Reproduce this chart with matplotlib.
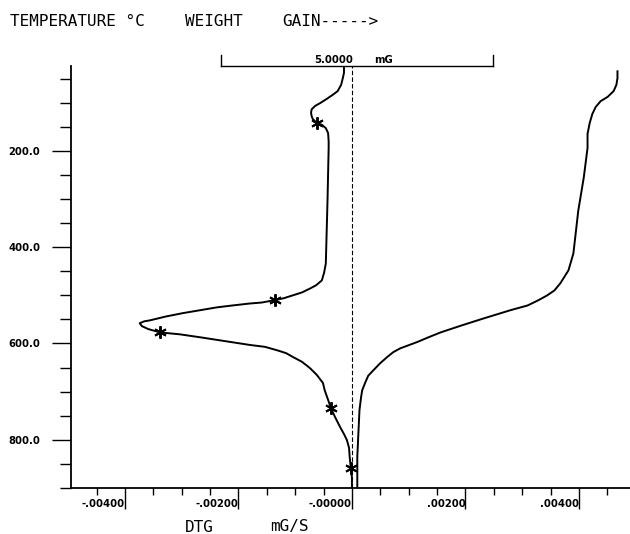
import matplotlib
matplotlib.use("Agg")
import matplotlib.pyplot as plt
from matplotlib.ticker import MultipleLocator
import matplotlib.transforms as mtransforms

# DTG curve (temperature in degC, rate in mG/s)
dtg_temp = [28, 38, 49, 63, 76, 84, 92, 101, 107, 114, 121, 128, 134, 142, 146, 153,
            163, 180, 194, 303, 434, 453, 469, 479, 486, 494, 500, 506, 510, 515,
            517, 521, 525, 531, 537, 544, 552, 554, 558, 564, 570, 577, 581, 587,
            595, 603, 607, 614, 620, 628, 638, 651, 665, 682, 697, 717, 734, 752,
            773, 788, 800, 817, 835, 858, 878, 897]
dtg_rate = [-0.00014, -0.00014, -0.00016, -0.00019, -0.00025, -0.00034, -0.00044,
            -0.00056, -0.00065, -0.00071, -0.00072, -0.00071, -0.00069, -0.00062,
            -0.00053, -0.00046, -0.00042, -0.00041, -0.00041, -0.00043, -0.00046,
            -0.00049, -0.00053, -0.00063, -0.00074, -0.00088, -0.00104, -0.00120,
            -0.00136, -0.00159, -0.00180, -0.00210, -0.00238, -0.00268, -0.00298,
            -0.00328, -0.00356, -0.00366, -0.00374, -0.00370, -0.00359, -0.00338,
            -0.00303, -0.00268, -0.00224, -0.00180, -0.00153, -0.00132, -0.00116,
            -0.00104, -0.00088, -0.00074, -0.00062, -0.00051, -0.00048, -0.00042,
            -0.00037, -0.00030, -0.00021, -0.00014, -0.00009, -0.00005, -0.00004,
            -0.00002, 0.0, 0.0]

# marked points on the DTG curve
mark_temp = [142, 510, 577, 734, 858]
mark_rate = [-0.00062, -0.00136, -0.00338, -0.00037, -0.00002]

# TG curve (weight change in mG)
tg_temp = [35, 49, 63, 76, 88, 97, 109, 123, 142, 165, 194, 256, 324, 413, 448, 475,
           490, 500, 510, 521, 531, 548, 562, 577, 587, 597, 610, 618, 628, 641, 655,
           667, 680, 697, 711, 738, 786, 835, 897]
tg_weight = [0, 0, -0.02, -0.07, -0.18, -0.31, -0.40, -0.46, -0.51, -0.55, -0.55,
             -0.62, -0.72, -0.81, -0.90, -1.05, -1.16, -1.29, -1.45, -1.65, -1.97,
             -2.46, -2.85, -3.25, -3.47, -3.68, -3.99, -4.12, -4.23, -4.36, -4.48,
             -4.58, -4.63, -4.69, -4.71, -4.74, -4.76, -4.78, -4.78]

xticks = [-0.004, -0.002, 0.0, 0.002, 0.004]
xticklabels = ["-.00400", "-.00200", "-.00000", ".00200", ".00400"]
yticks = [200, 400, 600, 800]
yticklabels = ["200.0", "400.0", "600.0", "800.0"]

tickfont = dict(family="DejaVu Sans", weight="bold", size=8, stretch="condensed")
mono = dict(family="DejaVu Sans Mono", size=11.5)

fig = plt.figure(figsize=(6.3, 5.34), dpi=100)
ax = fig.add_axes([0.1127, 0.0861, 0.8873, 0.7903])

ax.plot(dtg_rate, dtg_temp, color="black", lw=1.4)
ax.plot(mark_rate, mark_temp, ls="none", marker=(6, 2, 0), ms=9, mew=1.4, color="black")
ax.axvline(0, color="black", lw=0.8, ls=(0, (4, 2)))

ax.set_xlim(-0.00495, 0.0049)
ax.set_ylim(900, 24)

for s in ["top", "right"]:
    ax.spines[s].set_visible(False)
ax.spines["left"].set_linewidth(1.3)
ax.spines["bottom"].set_linewidth(1.3)

ax.set_xticks(xticks)
ax.set_xticklabels(xticklabels, ha="right", **tickfont)
ax.xaxis.set_minor_locator(MultipleLocator(0.0005))
ax.tick_params(axis="x", which="major", direction="out", length=15, width=1, pad=-7)
ax.tick_params(axis="x", which="minor", direction="out", length=5, width=1)

ax.set_yticks(yticks)
ax.set_yticklabels(yticklabels, **tickfont)
ax.yaxis.set_minor_locator(MultipleLocator(50))
ax.tick_params(axis="y", which="major", direction="out", length=14, width=1, pad=8)
ax.tick_params(axis="y", which="minor", direction="out", length=8, width=1)

# weight axis for the TG curve
ax2 = ax.twiny()
ax2.set_xlim(-10.04, 0.23)
ax2.plot(tg_weight, tg_temp, color="black", lw=1.4)
for s in ax2.spines.values():
    s.set_visible(False)
ax2.set_xticks([])

# 5 mG scale bar
tr = mtransforms.blended_transform_factory(ax2.transData, ax2.transAxes)
ax2.plot([-7.28, -2.28], [1.0, 1.0], color="black", lw=1.0, transform=tr, clip_on=False)
ax2.plot([-7.28, -7.28], [1.0, 1.027], color="black", lw=1.0, transform=tr, clip_on=False)
ax2.plot([-2.28, -2.28], [1.0, 1.027], color="black", lw=1.0, transform=tr, clip_on=False)
ax2.text(-4.85, 1.003, "5.0000", ha="right", va="bottom", transform=tr, **tickfont)
ax2.text(-4.48, 1.003, "mG", ha="left", va="bottom", transform=tr, **tickfont)

fig.text(10 / 630, 1 - 21 / 534, "TEMPERATURE °C", ha="left", va="center", **mono)
fig.text(185 / 630, 1 - 21 / 534, "WEIGHT", ha="left", va="center", **mono)
fig.text(282 / 630, 1 - 21 / 534, "GAIN----->", ha="left", va="center", **mono)
fig.text(185 / 630, 1 - 527 / 534, "DTG", ha="left", va="center", **mono)
fig.text(270 / 630, 1 - 527 / 534, "mG/S", ha="left", va="center", **mono)

fig.savefig("out.png", dpi=100)
